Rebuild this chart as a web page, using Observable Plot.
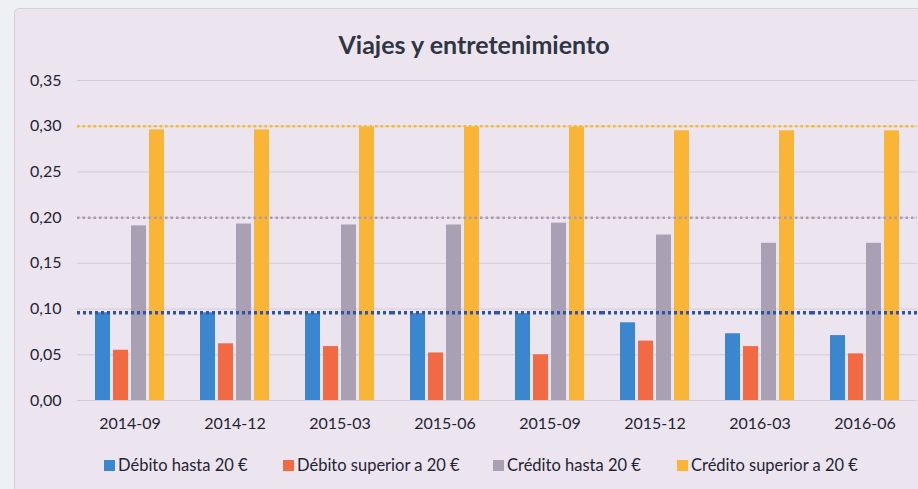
<!DOCTYPE html>
<html>
<head>
<meta charset="utf-8">
<script src="https://cdn.jsdelivr.net/npm/d3@7"></script>
<script src="https://cdn.jsdelivr.net/npm/@observablehq/plot@0.6"></script>
<style>
  html, body { margin: 0; padding: 0; background: #eef0f4; }
  #card {
    position: absolute; left: 14px; top: 8px; width: 910px; height: 490px;
    background: #ece5f0; border: 1px solid #d6d0da; border-radius: 5px;
  }
  #wrap { position: absolute; left: 0; top: 0; width: 918px; }
  #title {
    height: 70px; box-sizing: border-box; padding-top: 28px; padding-left: 30px;
    text-align: center; font-family: Lato, sans-serif; font-weight: bold;
    font-size: 25px; line-height: 32px; color: #2f3542;
  }
  #legend {
    position: relative; height: 44px;
    font-family: Lato, sans-serif; font-size: 16.5px; color: #1f2432;
  }
  #legend .item { position: absolute; top: 9px; display: flex; align-items: center; line-height: 22px; }
  #legend .sw { width: 11px; height: 11px; margin-right: 3px; }
</style>
</head>
<body>
<div id="card"></div>
<div id="wrap">
  <div id="title">Viajes y entretenimiento</div>
  <div id="chart"></div>
  <div id="legend"></div>
</div>
<script>
const periods = ["2014-09", "2014-12", "2015-03", "2015-06", "2015-09", "2015-12", "2016-03", "2016-06"];
const seriesNames = ["Débito hasta 20 €", "Débito superior a 20 €", "Crédito hasta 20 €", "Crédito superior a 20 €"];
const debitoHasta = [0.096, 0.096, 0.095, 0.095, 0.095, 0.085, 0.073, 0.071];
const debitoSuperior = [0.055, 0.062, 0.059, 0.052, 0.050, 0.065, 0.059, 0.051];
const creditoHasta = [0.191, 0.193, 0.192, 0.192, 0.194, 0.181, 0.172, 0.172];
const creditoSuperior = [0.296, 0.296, 0.299, 0.299, 0.299, 0.295, 0.295, 0.295];
const limits = [0.096, 0.2, 0.3];
const limitSeries = ["Débito hasta 20 €", "Crédito hasta 20 €", "Crédito superior a 20 €"];
const yTicks = [0, 0.05, 0.10, 0.15, 0.20, 0.25, 0.30, 0.35];
const colors = ["#3b87cf", "#f26a43", "#a9a1b3", "#fbb536"];
const limitColors = ["#2f54a6", "#a99cb2", "#f7bd1c"];

const allSeries = [debitoHasta, debitoSuperior, creditoHasta, creditoSuperior];
const rows = [];
periods.forEach((p, i) => {
  seriesNames.forEach((s, j) => rows.push({period: p, series: s, value: allSeries[j][i]}));
});
const limitRows = limits.map((v, i) => ({value: v, series: limitSeries[i], color: limitColors[i]}));

const chart = Plot.plot({
  width: 918,
  height: 375,
  marginTop: 10,
  marginBottom: 45,
  marginLeft: 75,
  marginRight: 0,
  style: {background: "transparent", fontFamily: "Lato, sans-serif", fontSize: "16px", color: "#1f2432"},
  facet: {data: rows, x: "period"},
  fx: {domain: periods, padding: 0, axis: "bottom", tickSize: 0, tickPadding: 17, label: null},
  x: {domain: seriesNames, paddingInner: 0.16, paddingOuter: 0.85, axis: null},
  y: {domain: [0, 0.35], ticks: yTicks, tickFormat: d => d.toFixed(2).replace(".", ","), tickSize: 0, tickPadding: 16, label: null},
  color: {domain: seriesNames, range: colors},
  marks: [
    Plot.ruleY(yTicks, {stroke: "#d3cbd8", strokeWidth: 1}),
    Plot.barY(rows, {x: "series", y: "value", fill: "series"}),
    Plot.ruleY(limitRows.slice(1), {y: "value", stroke: d => d.color, strokeWidth: 2.5, strokeDasharray: "2.5,3"}),
    Plot.ruleY(limitRows.slice(0, 1), {y: "value", stroke: d => d.color, strokeWidth: 3.5, strokeDasharray: "3,3"})
  ]
});
document.getElementById("chart").appendChild(chart);

const legend = document.getElementById("legend");
const lefts = [104, 283, 493, 677];
seriesNames.forEach((s, i) => {
  const it = document.createElement("div");
  it.className = "item";
  it.style.left = lefts[i] + "px";
  const sw = document.createElement("div");
  sw.className = "sw";
  sw.style.background = colors[i];
  const tx = document.createElement("span");
  tx.textContent = s;
  it.appendChild(sw); it.appendChild(tx);
  legend.appendChild(it);
});
</script>
</body>
</html>
